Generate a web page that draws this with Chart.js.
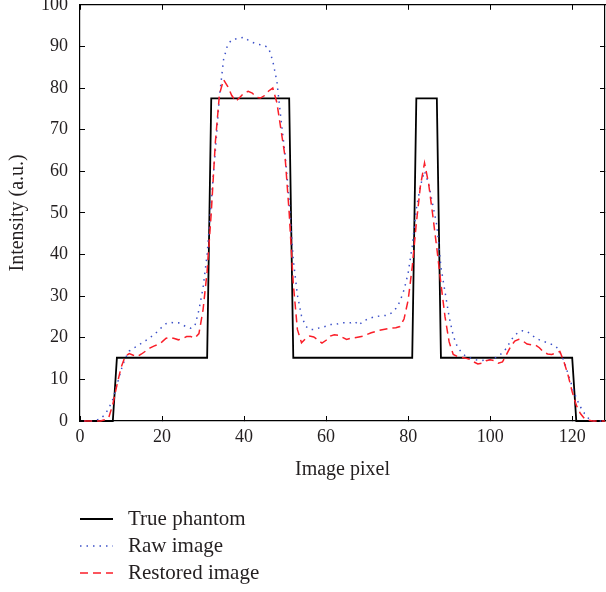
<!DOCTYPE html>
<html>
<head>
<meta charset="utf-8">
<script src="https://cdn.jsdelivr.net/npm/chart.js@4.4.1/dist/chart.umd.min.js"></script>
<style>
  html, body { margin: 0; padding: 0; background: #fff; overflow: hidden; }
  #wrap { position: absolute; left: 0; top: -23px; width: 606px; height: 615px; }
</style>
</head>
<body>
<div id="wrap"><canvas id="myChart" width="606" height="615"></canvas></div>
<script>
// pixel index along the profile (1..128)
const pixels = Array.from({ length: 128 }, (_, i) => i + 1);

// true phantom: corners of the step profile
const phantomX = [1, 8, 9, 31, 32, 51, 52, 81, 82, 87, 88, 120, 121, 128];
const phantomY = [0, 0, 15.2, 15.2, 77.5, 77.5, 15.2, 15.2, 77.5, 77.5, 15.2, 15.2, 0, 0];

// raw image, one value per pixel
const rawImage = [
  0, 0, 0, 0.2, 0.5, 1.5, 3, 5.2, 8.6, 12.2, 15, 16.8, 17.5, 18, 18.7, 19.3,
  20, 20.7, 21.6, 22.6, 23.4, 23.7, 23.6, 23.6, 23.1, 22.6, 22.3, 22.8, 26.7, 32, 40, 53,
  65, 78, 86.8, 90.4, 91.6, 91.8, 92, 92.2, 91.5, 91, 90.6, 90.4, 90.2, 89.6, 86.5, 81.6,
  72.5, 64, 53, 38.7, 30.3, 25.3, 22.8, 22, 22, 22.3, 22.5, 22.8, 23.2, 23.1, 23.4, 23.6,
  23.6, 23.6, 23.9, 23, 24, 24.4, 24.8, 25.1, 25.2, 25.3, 25.4, 26, 27, 28.7, 31.5, 35.5,
  42, 51, 56.5, 60, 57, 52, 47, 37, 31, 25, 20.5, 17.8, 16.5, 15.6, 15.2, 14.8,
  14.6, 14.5, 14.7, 14.8, 15, 15.6, 16.4, 17.5, 19.3, 20.6, 21.4, 21.7, 21.5, 20.8, 20, 19.5,
  19.1, 18.8, 18.4, 18, 16.6, 14.4, 11.3, 8.3, 5.5, 3.4, 1.8, 0.6, 0, 0, 0, 0
];

// restored image, one value per pixel
const restoredImage = [
  0, 0, 0, 0, 0, 0.3, 0.8, 4, 8.6, 12.8, 15.5, 16.2, 15.8, 15.5, 16.1, 16.8,
  17.5, 18, 18.4, 19, 19.9, 20.1, 19.8, 19.5, 19.8, 20.3, 20.3, 19.9, 21, 26.7, 36, 50,
  67, 78.5, 82, 80.4, 78.2, 76.8, 77.8, 78.8, 79.2, 78.8, 77.8, 77.6, 78.2, 79.3, 80, 76.5,
  70, 63.5, 50, 33, 22, 18.8, 19.8, 20.4, 20.2, 19.5, 18.7, 19.4, 20.4, 20.7, 20.6, 20.1,
  19.6, 19.9, 20, 20.2, 20.4, 20.8, 21.2, 21.5, 21.8, 22, 22.2, 22.3, 22.4, 22.7, 24.5, 29,
  37, 47.5, 56.5, 62, 57, 49.5, 41.5, 33, 25, 19, 16, 15.5, 15.3, 15.1, 14.8, 14.2,
  13.7, 13.9, 14.5, 14.7, 14.5, 13.9, 14.2, 16, 17.9, 19.2, 19.6, 19.2, 18.5, 18.3, 18.3, 17.6,
  16.6, 16.1, 16, 16.3, 16.7, 14.2, 11, 7, 3.8, 1.8, 0.6, 0.2, 0, 0, 0, 0
];

const xTicks = [0, 20, 40, 60, 80, 100, 120];
const yTicks = [0, 10, 20, 30, 40, 50, 60, 70, 80, 90, 100];

const serif = '"Liberation Serif", "DejaVu Serif", serif';
const ink = '#231f20';

const setTicks = (vals) => (scale) => { scale.ticks = vals.map(v => ({ value: v })); };

// legend drawn under the axis title, one entry per row
const plainLegend = {
  id: 'plainLegend',
  afterDraw(chart) {
    const ctx = chart.ctx;
    const left = chart.chartArea.left;
    ctx.save();
    chart.data.datasets.forEach((ds, i) => {
      const y = 542 + i * 27;
      ctx.strokeStyle = ds.borderColor;
      ctx.lineWidth = ds.borderWidth;
      ctx.setLineDash(ds.borderDash || []);
      ctx.beginPath();
      ctx.moveTo(left, y);
      ctx.lineTo(left + 33, y);
      ctx.stroke();
      ctx.setLineDash([]);
      ctx.fillStyle = ink;
      ctx.font = '21px ' + serif;
      ctx.textBaseline = 'middle';
      ctx.textAlign = 'left';
      ctx.fillText(ds.label, left + 48, y);
    });
    ctx.restore();
  }
};

const gridInside = { drawOnChartArea: false, tickLength: -5, color: '#000', lineWidth: 1 };
const frame = { display: true, color: '#000', width: 1.2 };

const ctx = document.getElementById('myChart').getContext('2d');
const myChart = new Chart(ctx, {
  type: 'line',
  data: {
    labels: pixels,
    datasets: [
      {
        label: 'True phantom',
        data: phantomX.map((x, i) => ({ x: x, y: phantomY[i] })),
        borderColor: '#000',
        borderWidth: 1.8,
        pointRadius: 0,
        tension: 0,
        clip: 2,
        order: 2
      },
      {
        label: 'Raw image',
        data: rawImage,
        borderColor: 'rgb(60, 80, 200)',
        borderWidth: 1.5,
        borderDash: [1.5, 5],
        pointRadius: 0,
        tension: 0,
        clip: 2,
        order: 1
      },
      {
        label: 'Restored image',
        data: restoredImage,
        borderColor: 'rgb(250, 30, 40)',
        borderWidth: 1.5,
        borderDash: [8, 5],
        pointRadius: 0,
        tension: 0,
        clip: 2,
        order: 0
      }
    ]
  },
  options: {
    responsive: false,
    animation: false,
    devicePixelRatio: 1,
    layout: { padding: { top: 0, right: 1, bottom: 110, left: 0 } },
    plugins: { legend: { display: false }, tooltip: { enabled: false } },
    scales: {
      x: {
        type: 'linear', position: 'bottom', min: 0, max: 128,
        afterBuildTicks: setTicks(xTicks),
        afterFit: (s) => { s.height = 61; },
        ticks: { color: ink, font: { family: serif, size: 18 }, padding: 10, maxRotation: 0 },
        grid: gridInside, border: frame,
        title: { display: true, text: 'Image pixel', color: ink, font: { family: serif, size: 20 }, padding: 0 }
      },
      y: {
        type: 'linear', position: 'left', min: 0, max: 100,
        afterBuildTicks: setTicks(yTicks),
        afterFit: (s) => { s.width = 80; },
        ticks: { color: ink, font: { family: serif, size: 18 }, padding: 17 },
        grid: gridInside, border: frame,
        title: { display: true, text: 'Intensity (a.u.)', color: ink, font: { family: serif, size: 20 }, padding: { top: 6, bottom: 0 } }
      },
      x2: {
        type: 'linear', position: 'top', min: 0, max: 128,
        afterBuildTicks: setTicks(xTicks),
        afterFit: (s) => { s.height = 0; },
        ticks: { display: false },
        grid: gridInside, border: frame
      },
      y2: {
        type: 'linear', position: 'right', min: 0, max: 100,
        afterBuildTicks: setTicks(yTicks),
        afterFit: (s) => { s.width = 0; },
        ticks: { display: false },
        grid: gridInside, border: frame
      }
    }
  },
  plugins: [plainLegend]
});
</script>
</body>
</html>
